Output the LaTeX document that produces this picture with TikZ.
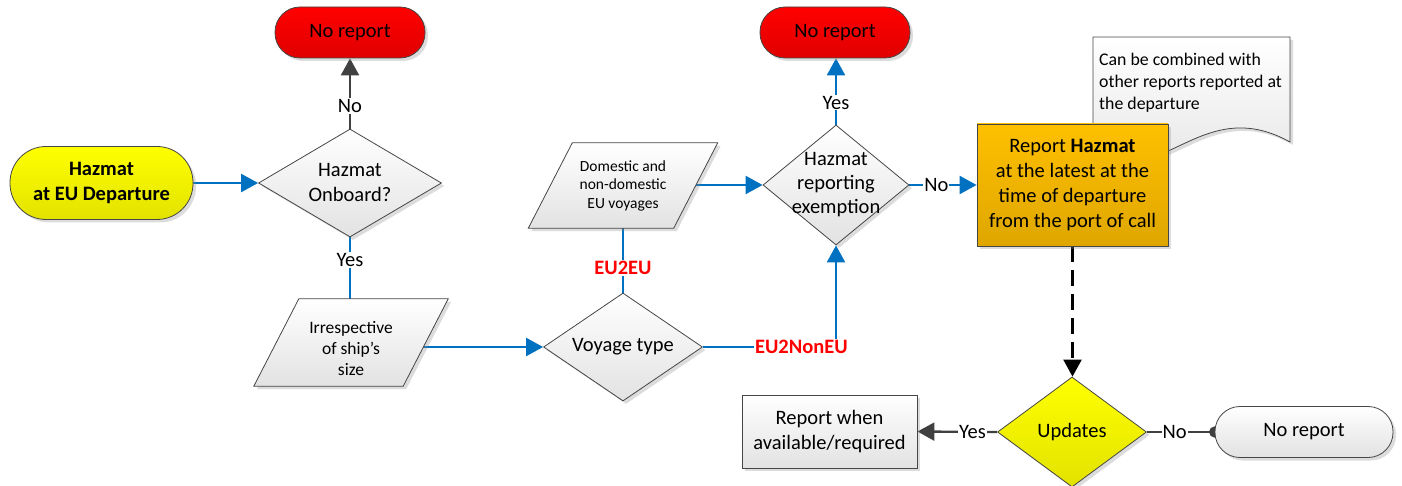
\documentclass[tikz,border=0pt]{standalone}
\usepackage{fontspec}
\setmainfont{Carlito}
\usetikzlibrary{shapes.geometric,arrows.meta,shadows,backgrounds}
\definecolor{blueline}{RGB}{0,112,192}
\definecolor{darkline}{RGB}{64,64,64}
\definecolor{edge}{RGB}{70,70,70}
\definecolor{redtop}{RGB}{255,0,0}
\definecolor{redbot}{RGB}{224,0,0}
\definecolor{yeltop}{RGB}{255,255,0}
\definecolor{yelbot}{RGB}{226,226,0}
\definecolor{ortop}{RGB}{255,192,0}
\definecolor{orbot}{RGB}{222,166,0}
\definecolor{grtop}{RGB}{255,255,255}
\definecolor{grbot}{RGB}{226,226,226}
\definecolor{labred}{RGB}{255,0,0}
\tikzset{
  txt/.style={font=\fontsize{20.5}{25}\selectfont, align=center},
  lbl/.style={font=\fontsize{20.5}{24}\selectfont, fill=white, inner sep=1pt},
  redlbl/.style={lbl, text=labred, font=\fontsize{20.5}{24}\selectfont\bfseries},
  tipA/.style={-{Triangle[width=18pt,length=17pt]}},
  flow/.style={draw=blueline, line width=2.3pt, tipA},
  plain/.style={draw=blueline, line width=2.3pt},
  grayflow/.style={draw=darkline, line width=2.3pt, tipA},
  dashflow/.style={draw=black, line width=2.3pt, dash pattern=on 16pt off 8pt, tipA},
  dotline/.style={draw=darkline, line width=2.3pt, -{Circle[length=11pt]}, shorten >=-5.5pt},
  shp/.style={draw=edge, line width=0.8pt, drop shadow={shadow xshift=3pt, shadow yshift=-3pt, opacity=0.3, fill=black!45}},
  term/.style={shp, rectangle, rounded corners=#1, inner sep=0},
  dia/.style={shp, diamond, inner sep=0, aspect=1},
  redfill/.style={top color=redtop, bottom color=redbot},
  yelfill/.style={top color=yeltop, bottom color=yelbot},
  orfill/.style={top color=ortop, bottom color=orbot},
  grayfill/.style={top color=grtop, bottom color=grbot},
  anchorbox/.style={rectangle, inner sep=0, draw=none}
}
\begin{document}
\begin{tikzpicture}[x=1pt,y=-1pt]
\useasboundingbox (0,0) rectangle (1402,486);

% terminals
\node[term=25pt, redfill, minimum width=150pt, minimum height=51pt, txt] (nr1) at (350,32.5) {No report};
\node[term=25pt, redfill, minimum width=150pt, minimum height=51pt, txt] (nr2) at (835,32.5) {No report};
\node[term=36pt, yelfill, minimum width=183pt, minimum height=73pt, txt, font={\fontsize{20.5}{25}\selectfont\bfseries}] (st) at (101.5,183) {Hazmat\\at EU Departure};

% decisions
\node[dia, grayfill, minimum width=183pt, minimum height=108pt, label={[txt]center:Hazmat\\Onboard?}] (d1) at (350,183) {};
\node[dia, grayfill, minimum width=146pt, minimum height=120pt, label={[txt, font=\fontsize{20.5}{24}\selectfont]center:Hazmat\\reporting\\exemption}] (ex) at (836,185) {};
\node[dia, grayfill, minimum width=159pt, minimum height=108pt, label={[txt]center:Voyage type}] (vt) at (623,347) {};
\node[dia, yelfill, minimum width=149pt, minimum height=110pt, label={[txt]center:Updates}] (up) at (1072,432) {};

% parallelograms
\node[anchorbox, minimum width=145pt, minimum height=85pt] (dom) at (623,185.5) {};
\path[shp, grayfill] ([xshift=22pt]dom.north west) -- ([xshift=22pt]dom.north east) -- ([xshift=-22pt]dom.south east) -- ([xshift=-22pt]dom.south west) -- cycle;
\node[align=center, font=\fontsize{15.5}{18.5}\selectfont] (domtxt) at (623,185.5) {Domestic and\\non-domestic\\EU voyages};

\node[anchorbox, minimum width=149pt, minimum height=87pt] (ir) at (351,342.5) {};
\path[shp, grayfill] ([xshift=22.5pt]ir.north west) -- ([xshift=22.5pt]ir.north east) -- ([xshift=-22.5pt]ir.south east) -- ([xshift=-22.5pt]ir.south west) -- cycle;
\node[align=center, font=\fontsize{17.5}{21}\selectfont] (irtxt) at (351,349) {Irrespective\\of ship’s\\size};

% note
\path[shp, grayfill] (1093,37) -- (1290,37) -- (1290,142) .. controls (1200,92) and (1160,195) .. (1093,150) -- cycle;
\node[anchor=north west, align=left, inner sep=0, font=\fontsize{17.8}{22}\selectfont] (notetxt) at (1099,53) {Can be combined with\\other reports reported at\\the departure};

% process boxes
\node[shp, orfill, rectangle, minimum width=191pt, minimum height=122pt, txt] (rep) at (1072.5,185) {Report \textbf{Hazmat}\\at the latest at the\\time of departure\\from the port of call};
\node[shp, grayfill, rectangle, minimum width=175pt, minimum height=73pt, txt] (rw) at (829.5,431.5) {Report when\\available/required};
\node[term=25pt, grayfill, minimum width=178pt, minimum height=51pt, txt] (nr3) at (1304,432) {No report};

% connectors
\begin{scope}[on background layer]
\draw[flow] (st.east) -- (d1.west);
\draw[grayflow] (d1.north) -- node[lbl, pos=0.32] {No} (nr1.south);
\draw[plain] (d1.south) -- node[lbl, pos=0.37] {Yes} (d1.south |- ir.north);
\draw[flow] (ir.center |- vt.west) -- (vt.west);
\draw[plain] (dom.south) -- node[redlbl, pos=0.62] {EU2EU} (vt.north);
\draw[flow] (dom.center |- ex.west) -- (ex.west);
\draw[flow] (vt.east) -| node[redlbl, pos=0.37] {EU2NonEU} (ex.south);
\draw[flow] (ex.north) -- node[lbl, pos=0.33] {Yes} (ex.north |- nr2.south);
\draw[flow] (ex.east) -- node[lbl, pos=0.4] {No} (rep.west);
\draw[dashflow] (rep.south) -- (rep.south |- up.north);
\draw[grayflow] (up.west) -- node[lbl, pos=0.31] {Yes} (rw.east);
\draw[dotline] (up.east) -- node[lbl, pos=0.41] {No} (nr3.west);
\end{scope}
\end{tikzpicture}
\end{document}
